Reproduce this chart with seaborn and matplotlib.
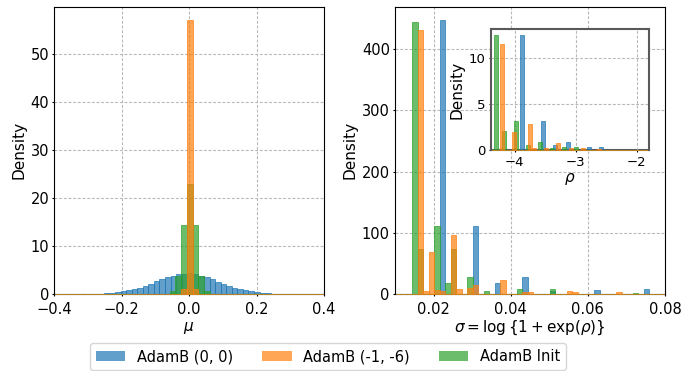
import numpy as np
import pandas as pd
import matplotlib
matplotlib.use("Agg")
import matplotlib.pyplot as plt
import seaborn as sns
from matplotlib.colors import to_rgba
from matplotlib.patches import Patch

LABELS = ["AdamB (0, 0)", "AdamB (-1, -6)", "AdamB Init"]
COLORS = ["#1f77b4", "#ff7f0e", "#2ca02c"]

# ---- posterior mean mu (left panel) ----
# bin grids: (first edge, bin width)
mu_bins_00 = (-0.2695, 0.0165)
mu_bins_16 = (-0.0065, 0.017)
mu_bins_init = (-0.0575, 0.017)
mu_density_00 = [0.1, 0.15, 0.3, 0.45, 0.63, 0.84, 1.12, 1.32, 1.67, 2.09, 2.72,
                 3.14, 3.56, 3.77, 4.18, 4.25, 4.3, 4.2, 3.85, 3.56, 3.14, 2.5,
                 2.09, 1.67, 1.32, 1.05, 0.84, 0.63, 0.42, 0.2, 0.2, 0.05]
mu_x_00 = mu_bins_00[0] + mu_bins_00[1] * (np.arange(len(mu_density_00)) + 0.5)
mu_x_16 = [-0.015, 0.002, 0.019]
mu_density_16 = [1.0, 57.0, 1.0]
mu_x_init = [-0.049, -0.032, -0.015, 0.002, 0.019, 0.036, 0.053]
mu_density_init = [0.6, 3.8, 14.3, 23.0, 14.3, 3.8, 0.6]

# ---- posterior scale sigma (right panel) ----
sigma_bins = (0.01443, 0.00143)
sigma_x_00 = [0.02230, 0.03088, 0.03660, 0.04375, 0.05090, 0.06234, 0.07521]
sigma_density_00 = [447, 111, 18, 28, 5, 6.5, 8]
sigma_x_16 = [0.01658, 0.01801, 0.01944, 0.02087, 0.02230, 0.02516, 0.02659,
              0.02945, 0.03088, 0.03803, 0.04375, 0.04518, 0.05519, 0.05662,
              0.06806]
sigma_density_16 = [432, 5, 68, 7, 5, 96.5, 8, 10, 14, 23, 3.3, 3.3, 5, 3.3, 3.3]
sigma_x_init = [0.01515, 0.01658, 0.02087, 0.02373, 0.02516, 0.02945, 0.03374,
                0.04232, 0.05090, 0.07235]
sigma_density_init = [445, 73, 111, 18.5, 73, 27.8, 5, 8, 8, 1.5]

# ---- raw parameter rho (inset) ----
rho_bins_00 = (-3.910, 0.068)
rho_bins_16 = (-4.238, 0.066)
rho_bins_init = (-4.336, 0.0655)
rho_x_00 = [-3.876, -3.536, -3.332, -3.128, -2.788, -2.584]
rho_density_00 = [12.46, 3.14, 0.54, 0.87, 0.33, 0.33]
rho_x_16 = [-4.205, -4.007, -3.743, -3.677, -3.479, -3.281, -3.083, -2.885, -2.621]
rho_density_16 = [11.5, 1.95, 2.82, 0.2, 0.2, 0.76, 0.2, 0.2, 0.15]
rho_x_init = [-4.3033, -4.1723, -3.9758, -3.7793, -3.5828, -3.3863, -3.1898, -2.9933]
rho_density_init = [12.46, 2.06, 3.14, 0.54, 0.87, 0.2, 0.33, 0.33]

MU_LIM = (-0.4, 0.4)
SIGMA_LIM = (0.01, 0.08)
RHO_LIM = (-4.385, -1.80)


def draw_hist(ax, x, density, bins, xlim, color):
    first, width = bins
    lo, hi = xlim
    k0 = int(np.floor((lo - first) / width)) - 1
    k1 = int(np.ceil((hi - first) / width)) + 1
    edges = first + width * np.arange(k0, k1 + 1)
    edges = np.unique(np.concatenate([[lo], edges[(edges > lo) & (edges < hi)], [hi]]))
    df = pd.DataFrame({"x": np.asarray(x, float), "w": np.asarray(density, float)})
    sns.histplot(data=df, x="x", weights="w", bins=list(edges), stat="count",
                 color=color, alpha=0.7, edgecolor=to_rgba(color, 0.7),
                 linewidth=0.7, ax=ax)


def style_axes(ax, xlim, tick_size):
    ax.set_xlim(*xlim)
    ax.set_axisbelow(False)
    ax.grid(True, linestyle=(0, (2.6, 1.6)), color="#b8b8b8", linewidth=0.8)
    ax.tick_params(labelsize=tick_size, length=1.5)
    ax.tick_params(axis="y", pad=2.2)
    ax.tick_params(axis="x", pad=4.5)
    for p in ax.patches:
        p.set_clip_on(False)
        p.set_zorder(2.6)
    for name, s in ax.spines.items():
        s.set_zorder(0.5 if name == "bottom" else 3)


fig = plt.figure(figsize=(6.81, 3.71), dpi=100)
ax_mu = fig.add_axes([0.0797, 0.2075, 0.3960, 0.7744])
ax_sig = fig.add_axes([0.5800, 0.2075, 0.3965, 0.7744])
ax_rho = fig.add_axes([0.7210, 0.5957, 0.2320, 0.3253])

# draw order: (0, 0) first, then Init, then (-1, -6) on top
draw_hist(ax_mu, mu_x_00, mu_density_00, mu_bins_00, MU_LIM, COLORS[0])
draw_hist(ax_mu, mu_x_init, mu_density_init, mu_bins_init, MU_LIM, COLORS[2])
draw_hist(ax_mu, mu_x_16, mu_density_16, mu_bins_16, MU_LIM, COLORS[1])

draw_hist(ax_sig, sigma_x_00, sigma_density_00, sigma_bins, SIGMA_LIM, COLORS[0])
draw_hist(ax_sig, sigma_x_init, sigma_density_init, sigma_bins, SIGMA_LIM, COLORS[2])
draw_hist(ax_sig, sigma_x_16, sigma_density_16, sigma_bins, SIGMA_LIM, COLORS[1])

draw_hist(ax_rho, rho_x_00, rho_density_00, rho_bins_00, RHO_LIM, COLORS[0])
draw_hist(ax_rho, rho_x_init, rho_density_init, rho_bins_init, RHO_LIM, COLORS[2])
draw_hist(ax_rho, rho_x_16, rho_density_16, rho_bins_16, RHO_LIM, COLORS[1])

style_axes(ax_mu, MU_LIM, 10.5)
ax_mu.set_xticks([-0.4, -0.2, 0.0, 0.2, 0.4])
ax_mu.set_yticks([0, 10, 20, 30, 40, 50])
ax_mu.set_xlabel(r"$\mu$", fontsize=11, labelpad=2)
ax_mu.set_ylabel("Density", fontsize=11, labelpad=3)

style_axes(ax_sig, SIGMA_LIM, 10.5)
ax_sig.set_xticks([0.02, 0.04, 0.06, 0.08])
ax_sig.set_yticks([0, 100, 200, 300, 400])
ax_sig.set_xlabel(r"$\sigma = \log\{1 + \exp(\rho)\}$", fontsize=11, labelpad=1)
ax_sig.set_ylabel("Density", fontsize=11, labelpad=3)

style_axes(ax_rho, RHO_LIM, 9.5)
ax_rho.tick_params(axis="x", pad=2.5)
ax_rho.set_xticks([-4, -3, -2])
ax_rho.set_yticks([0, 5, 10])
ax_rho.set_xlabel(r"$\rho$", fontsize=11, labelpad=2)
ax_rho.set_ylabel("Density", fontsize=11, labelpad=3)
for s in ax_rho.spines.values():
    s.set_linewidth(1.5)
    s.set_edgecolor("0.35")

handles = [Patch(facecolor=to_rgba(c, 0.7), edgecolor="none") for c in COLORS]
fig.legend(handles, LABELS, loc="lower center", ncol=3, fontsize=10.5,
           bbox_to_anchor=(0.482, -0.017))

fig.savefig("out.png", dpi=100)
